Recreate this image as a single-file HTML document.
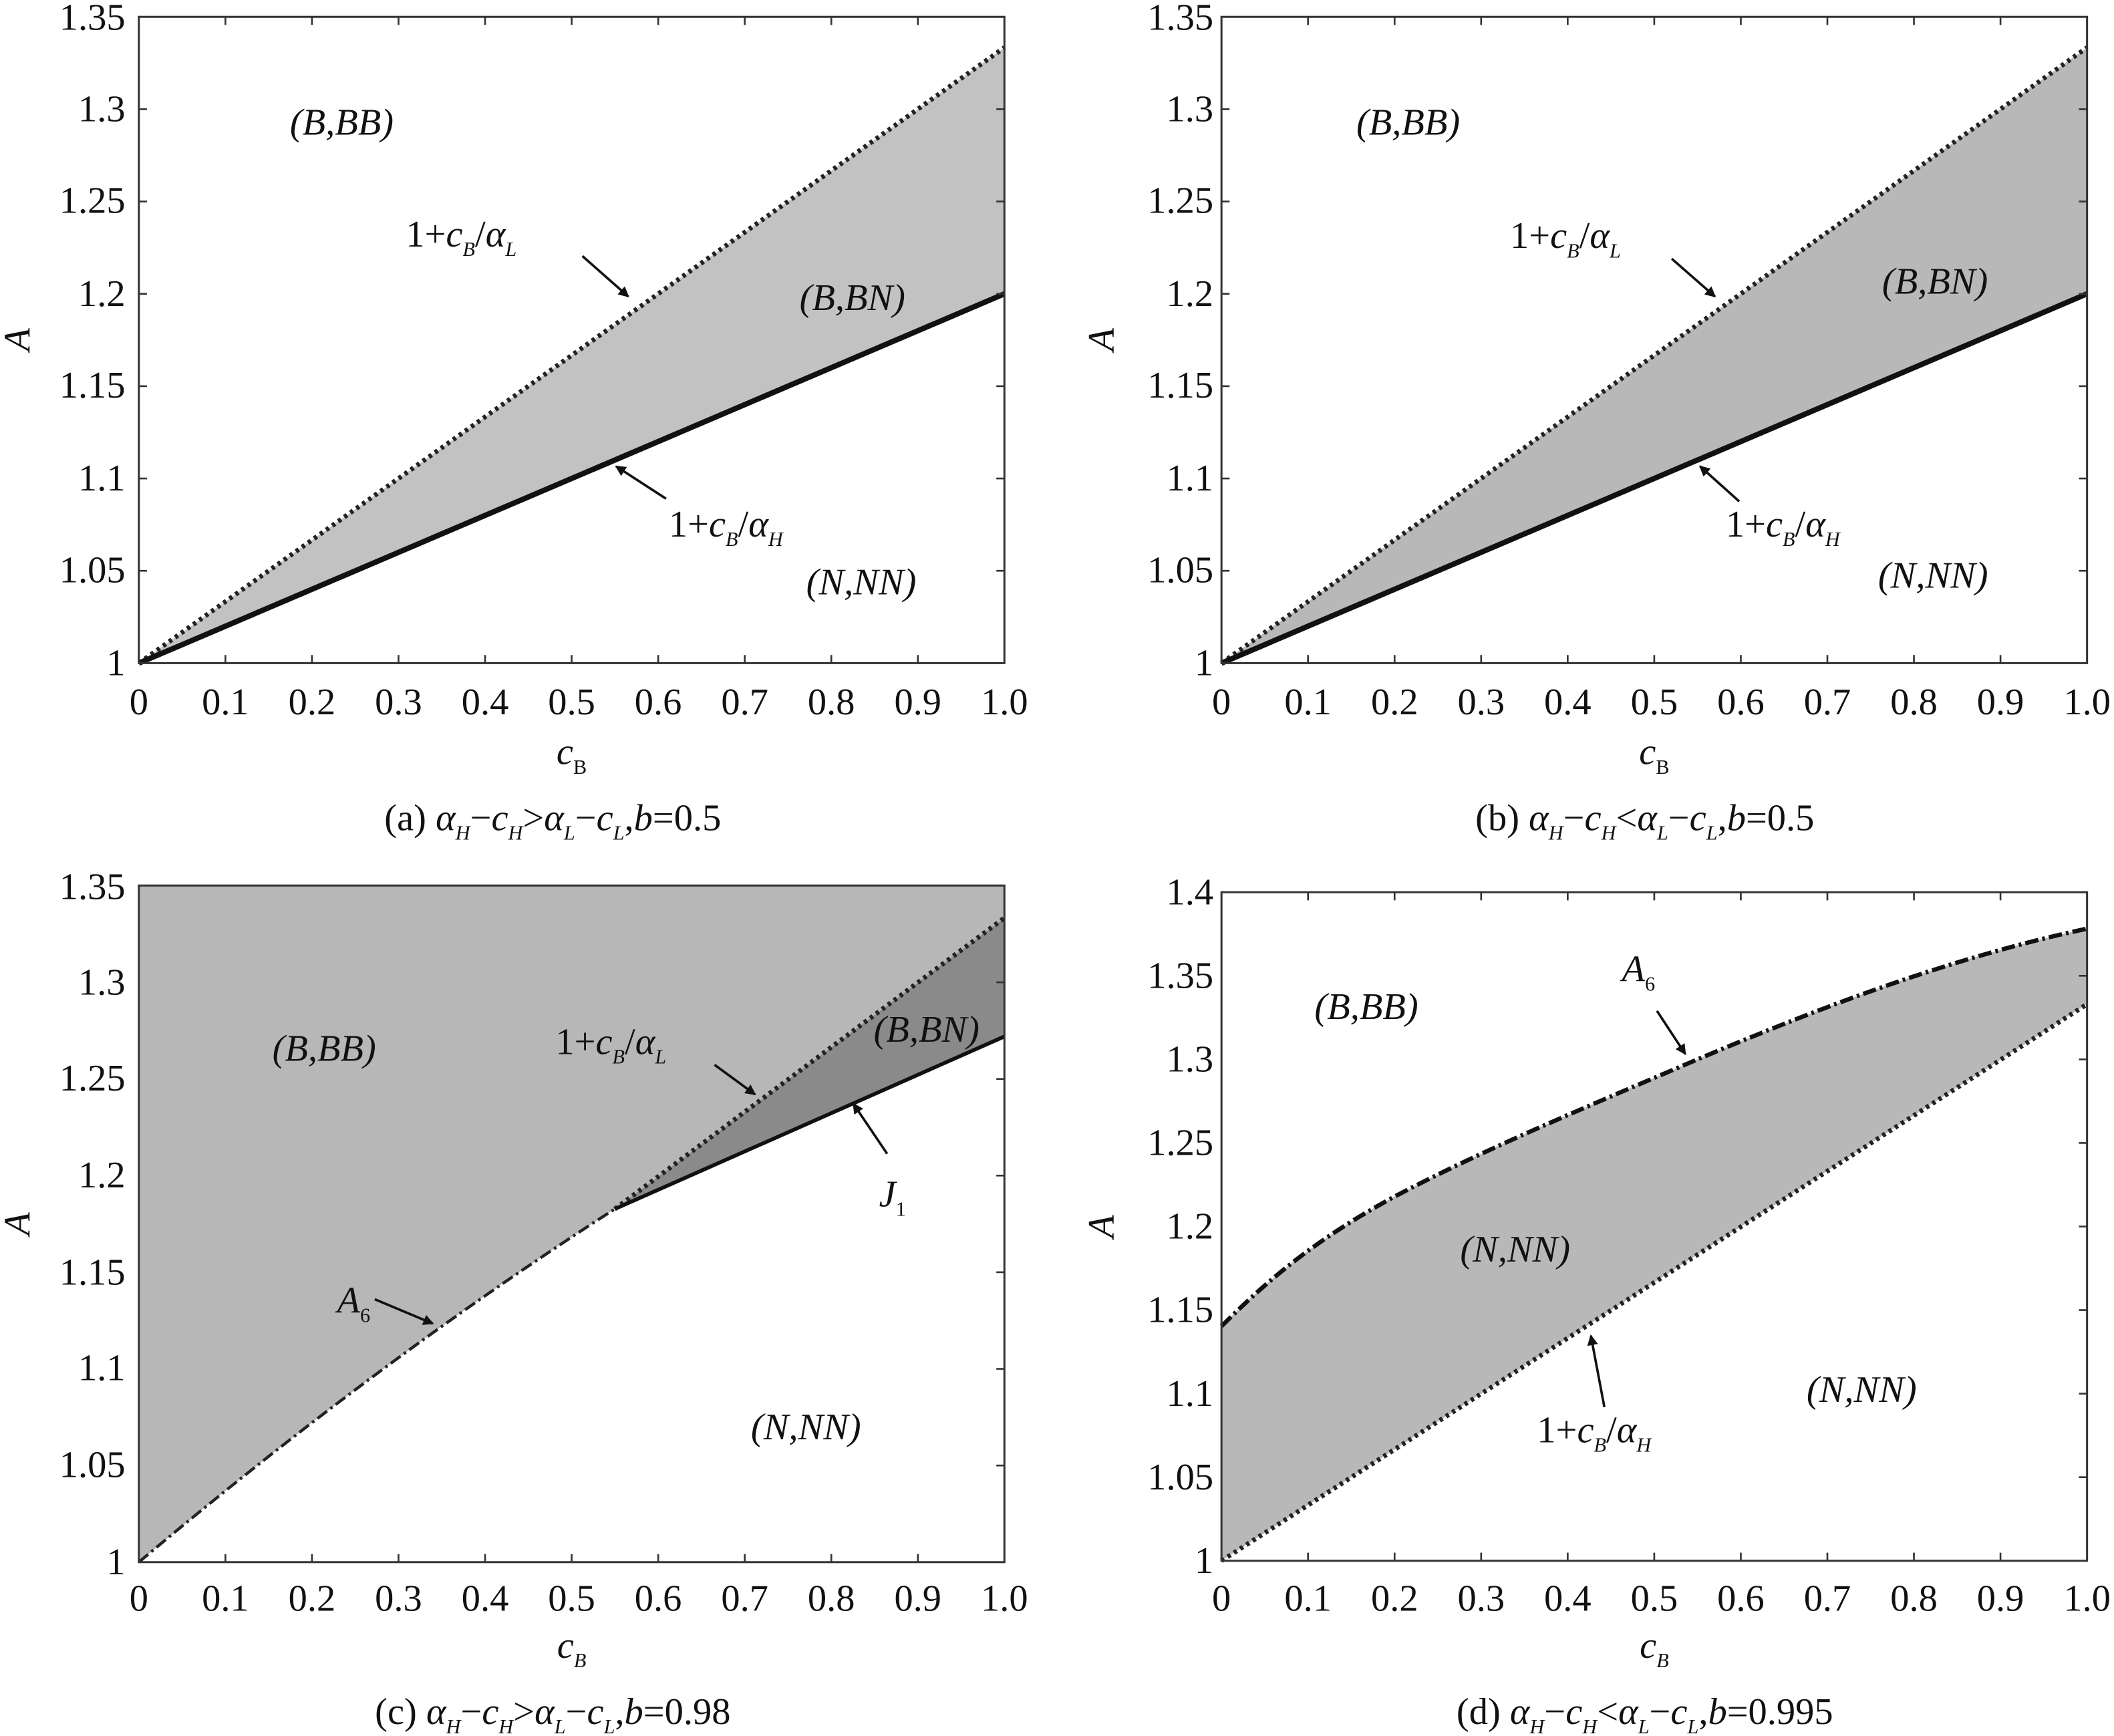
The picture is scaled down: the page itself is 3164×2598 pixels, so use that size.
<!DOCTYPE html>
<html><head><meta charset="utf-8"><style>
html,body{margin:0;padding:0;background:#fff}
svg{display:block;font-family:"Liberation Serif","DejaVu Serif","Times New Roman",serif}
svg text{font-family:"Liberation Serif","DejaVu Serif","Times New Roman",serif;fill:#111}
.t{font-size:28px}
.l{font-size:28px;font-style:italic}
.c{font-size:28px}
</style></head><body>
<svg width="3164" height="2598" viewBox="0 0 1568 1288" preserveAspectRatio="none" xmlns="http://www.w3.org/2000/svg" font-family="Liberation Serif, DejaVu Serif, serif">
<defs>
<marker id="ah" markerWidth="8" markerHeight="8" refX="7" refY="4" orient="auto" markerUnits="userSpaceOnUse" viewBox="0 0 8 8"><path d="M0,0 L8,4 L0,8 Z" fill="#111"/></marker>
</defs>

<!-- ========== Panel (a) ========== -->
<polygon points="103,492 745,35.3 745,218" fill="#c2c2c2"/>
<line x1="103" y1="492" x2="745" y2="35.3" stroke="#222" stroke-width="3.5" stroke-dasharray="2.5 3"/>
<line x1="103" y1="492" x2="745" y2="218" stroke="#111" stroke-width="4"/>
<rect x="103" y="12.5" width="642" height="479.5" fill="none" stroke="#333" stroke-width="1.5"/>
<path stroke="#333" stroke-width="1.3" d="M167.2,492v-6M231.4,492v-6M295.6,492v-6M359.8,492v-6M424,492v-6M488.2,492v-6M552.4,492v-6M616.6,492v-6M680.8,492v-6M167.2,12.5v6M231.4,12.5v6M295.6,12.5v6M359.8,12.5v6M424,12.5v6M488.2,12.5v6M552.4,12.5v6M616.6,12.5v6M680.8,12.5v6M103,423.5h6M103,355h6M103,286.5h6M103,218h6M103,149.5h6M103,81h6M745,423.5h-6M745,355h-6M745,286.5h-6M745,218h-6M745,149.5h-6M745,81h-6"/>
<g class="t" text-anchor="end"><text x="93" y="501">1</text><text x="93" y="432">1.05</text><text x="93" y="364">1.1</text><text x="93" y="295">1.15</text><text x="93" y="227">1.2</text><text x="93" y="158">1.25</text><text x="93" y="90">1.3</text><text x="93" y="22">1.35</text></g>
<g class="t" text-anchor="middle"><text x="103" y="530">0</text><text x="167.2" y="530">0.1</text><text x="231.4" y="530">0.2</text><text x="295.6" y="530">0.3</text><text x="359.8" y="530">0.4</text><text x="424" y="530">0.5</text><text x="488.2" y="530">0.6</text><text x="552.4" y="530">0.7</text><text x="616.6" y="530">0.8</text><text x="680.8" y="530">0.9</text><text x="745" y="530">1.0</text></g>
<text class="l" x="424" y="567" text-anchor="middle">c<tspan font-size="15" font-style="normal" dy="7">B</tspan></text>
<text class="l" transform="translate(22,252) rotate(-90)" text-anchor="middle">A</text>
<text class="l" x="215" y="100">(B,BB)</text>
<text class="l" x="593" y="230">(B,BN)</text>
<text class="l" x="598" y="441">(N,NN)</text>
<text class="l" x="301" y="183"><tspan font-style="normal">1+</tspan>c<tspan font-size="15" dy="7">B</tspan><tspan dy="-7" font-style="normal">/</tspan>α<tspan font-size="15" dy="7">L</tspan></text>
<text class="l" x="496" y="398"><tspan font-style="normal">1+</tspan>c<tspan font-size="15" dy="7">B</tspan><tspan dy="-7" font-style="normal">/</tspan>α<tspan font-size="15" dy="7">H</tspan></text>
<line x1="432" y1="190" x2="466" y2="220" stroke="#111" stroke-width="1.8" marker-end="url(#ah)"/>
<line x1="494" y1="370" x2="457" y2="346" stroke="#111" stroke-width="1.8" marker-end="url(#ah)"/>
<text class="c" x="410" y="616" text-anchor="middle">(a) <tspan font-style="italic">α</tspan><tspan font-size="15" font-style="italic" dy="7">H</tspan><tspan dy="-7">−</tspan><tspan font-style="italic">c</tspan><tspan font-size="15" font-style="italic" dy="7">H</tspan><tspan dy="-7">&gt;</tspan><tspan font-style="italic">α</tspan><tspan font-size="15" font-style="italic" dy="7">L</tspan><tspan dy="-7">−</tspan><tspan font-style="italic">c</tspan><tspan font-size="15" font-style="italic" dy="7">L</tspan><tspan dy="-7">,</tspan><tspan font-style="italic">b</tspan>=0.5</text>

<!-- ========== Panel (b) ========== -->
<polygon points="906,492 1548,35.3 1548,218" fill="#b8b8b8"/>
<line x1="906" y1="492" x2="1548" y2="35.3" stroke="#222" stroke-width="3.5" stroke-dasharray="2.5 3"/>
<line x1="906" y1="492" x2="1548" y2="218" stroke="#111" stroke-width="4"/>
<rect x="906" y="12.5" width="642" height="479.5" fill="none" stroke="#333" stroke-width="1.5"/>
<path stroke="#333" stroke-width="1.3" d="M970.2,492v-6M1034.4,492v-6M1098.6,492v-6M1162.8,492v-6M1227,492v-6M1291.2,492v-6M1355.4,492v-6M1419.6,492v-6M1483.8,492v-6M970.2,12.5v6M1034.4,12.5v6M1098.6,12.5v6M1162.8,12.5v6M1227,12.5v6M1291.2,12.5v6M1355.4,12.5v6M1419.6,12.5v6M1483.8,12.5v6M906,423.5h6M906,355h6M906,286.5h6M906,218h6M906,149.5h6M906,81h6M1548,423.5h-6M1548,355h-6M1548,286.5h-6M1548,218h-6M1548,149.5h-6M1548,81h-6"/>
<g class="t" text-anchor="end"><text x="900" y="501">1</text><text x="900" y="432">1.05</text><text x="900" y="364">1.1</text><text x="900" y="295">1.15</text><text x="900" y="227">1.2</text><text x="900" y="158">1.25</text><text x="900" y="90">1.3</text><text x="900" y="22">1.35</text></g>
<g class="t" text-anchor="middle"><text x="906" y="530">0</text><text x="970.2" y="530">0.1</text><text x="1034.4" y="530">0.2</text><text x="1098.6" y="530">0.3</text><text x="1162.8" y="530">0.4</text><text x="1227" y="530">0.5</text><text x="1291.2" y="530">0.6</text><text x="1355.4" y="530">0.7</text><text x="1419.6" y="530">0.8</text><text x="1483.8" y="530">0.9</text><text x="1548" y="530">1.0</text></g>
<text class="l" x="1227" y="567" text-anchor="middle">c<tspan font-size="15" font-style="normal" dy="7">B</tspan></text>
<text class="l" transform="translate(826,252) rotate(-90)" text-anchor="middle">A</text>
<text class="l" x="1006" y="100">(B,BB)</text>
<text class="l" x="1396" y="218">(B,BN)</text>
<text class="l" x="1393" y="436">(N,NN)</text>
<text class="l" x="1120" y="184"><tspan font-style="normal">1+</tspan>c<tspan font-size="15" dy="7">B</tspan><tspan dy="-7" font-style="normal">/</tspan>α<tspan font-size="15" dy="7">L</tspan></text>
<text class="l" x="1280" y="398"><tspan font-style="normal">1+</tspan>c<tspan font-size="15" dy="7">B</tspan><tspan dy="-7" font-style="normal">/</tspan>α<tspan font-size="15" dy="7">H</tspan></text>
<line x1="1240" y1="192" x2="1272" y2="220" stroke="#111" stroke-width="1.8" marker-end="url(#ah)"/>
<line x1="1290" y1="372" x2="1261" y2="346" stroke="#111" stroke-width="1.8" marker-end="url(#ah)"/>
<text class="c" x="1220" y="616" text-anchor="middle">(b) <tspan font-style="italic">α</tspan><tspan font-size="15" font-style="italic" dy="7">H</tspan><tspan dy="-7">−</tspan><tspan font-style="italic">c</tspan><tspan font-size="15" font-style="italic" dy="7">H</tspan><tspan dy="-7">&lt;</tspan><tspan font-style="italic">α</tspan><tspan font-size="15" font-style="italic" dy="7">L</tspan><tspan dy="-7">−</tspan><tspan font-style="italic">c</tspan><tspan font-size="15" font-style="italic" dy="7">L</tspan><tspan dy="-7">,</tspan><tspan font-style="italic">b</tspan>=0.5</text>

<!-- ========== Panel (c) ========== -->
<path d="M103,1159 Q280,1010 456,897 L745,681 L745,657 L103,657 Z" fill="#b7b7b7"/>
<polygon points="456,897 745,681 745,769" fill="#8a8a8a"/>
<path d="M103,1159 Q280,1010 456,897" fill="none" stroke="#222" stroke-width="2.2" stroke-dasharray="9 3 2 3"/>
<line x1="456" y1="897" x2="745" y2="681" stroke="#222" stroke-width="3.5" stroke-dasharray="2.5 3"/>
<line x1="456" y1="897" x2="745" y2="769" stroke="#111" stroke-width="2.8"/>
<rect x="103" y="657" width="642" height="502" fill="none" stroke="#333" stroke-width="1.5"/>
<path stroke="#333" stroke-width="1.3" d="M167.2,1159v-6M231.4,1159v-6M295.6,1159v-6M359.8,1159v-6M424,1159v-6M488.2,1159v-6M552.4,1159v-6M616.6,1159v-6M680.8,1159v-6M745,1087.3h-6M745,1015.6h-6M745,943.9h-6M745,872.2h-6M745,800.5h-6M745,728.8h-6"/>
<g class="t" text-anchor="end"><text x="93" y="1168">1</text><text x="93" y="1096">1.05</text><text x="93" y="1024">1.1</text><text x="93" y="953">1.15</text><text x="93" y="881">1.2</text><text x="93" y="809">1.25</text><text x="93" y="738">1.3</text><text x="93" y="667">1.35</text></g>
<g class="t" text-anchor="middle"><text x="103" y="1195">0</text><text x="167.2" y="1195">0.1</text><text x="231.4" y="1195">0.2</text><text x="295.6" y="1195">0.3</text><text x="359.8" y="1195">0.4</text><text x="424" y="1195">0.5</text><text x="488.2" y="1195">0.6</text><text x="552.4" y="1195">0.7</text><text x="616.6" y="1195">0.8</text><text x="680.8" y="1195">0.9</text><text x="745" y="1195">1.0</text></g>
<text class="l" x="424" y="1230" text-anchor="middle">c<tspan font-size="15" dy="7">B</tspan></text>
<text class="l" transform="translate(22,908) rotate(-90)" text-anchor="middle">A</text>
<text class="l" x="202" y="787">(B,BB)</text>
<text class="l" x="648" y="773">(B,BN)</text>
<text class="l" x="557" y="1068">(N,NN)</text>
<text class="l" x="652" y="895">J<tspan font-size="15" font-style="normal" dy="7">1</tspan></text>
<text class="l" x="250" y="974">A<tspan font-size="15" font-style="normal" dy="7">6</tspan></text>
<text class="l" x="412" y="782"><tspan font-style="normal">1+</tspan>c<tspan font-size="15" dy="7">B</tspan><tspan dy="-7" font-style="normal">/</tspan>α<tspan font-size="15" dy="7">L</tspan></text>
<line x1="530" y1="790" x2="560" y2="812" stroke="#111" stroke-width="1.8" marker-end="url(#ah)"/>
<line x1="658" y1="856" x2="633" y2="819" stroke="#111" stroke-width="1.8" marker-end="url(#ah)"/>
<line x1="278" y1="964" x2="321" y2="982" stroke="#111" stroke-width="1.8" marker-end="url(#ah)"/>
<text class="c" x="410" y="1279" text-anchor="middle">(c) <tspan font-style="italic">α</tspan><tspan font-size="15" font-style="italic" dy="7">H</tspan><tspan dy="-7">−</tspan><tspan font-style="italic">c</tspan><tspan font-size="15" font-style="italic" dy="7">H</tspan><tspan dy="-7">&gt;</tspan><tspan font-style="italic">α</tspan><tspan font-size="15" font-style="italic" dy="7">L</tspan><tspan dy="-7">−</tspan><tspan font-style="italic">c</tspan><tspan font-size="15" font-style="italic" dy="7">L</tspan><tspan dy="-7">,</tspan><tspan font-style="italic">b</tspan>=0.98</text>

<!-- ========== Panel (d) ========== -->
<path d="M906,984 C940,950 975,920 1034,888 C1100,853 1180,820 1259,786 C1340,752 1440,712 1548,689 L1548,745 L906,1158 Z" fill="#b8b8b8"/>
<path d="M906,984 C940,950 975,920 1034,888 C1100,853 1180,820 1259,786 C1340,752 1440,712 1548,689" fill="none" stroke="#111" stroke-width="3.2" stroke-dasharray="10 3 2 3"/>
<line x1="906" y1="1158" x2="1548" y2="745" stroke="#222" stroke-width="3.5" stroke-dasharray="2.5 3"/>
<rect x="906" y="662" width="642" height="496" fill="none" stroke="#333" stroke-width="1.5"/>
<path stroke="#333" stroke-width="1.3" d="M970.2,1158v-6M1034.4,1158v-6M1098.6,1158v-6M1162.8,1158v-6M1227,1158v-6M1291.2,1158v-6M1355.4,1158v-6M1419.6,1158v-6M1483.8,1158v-6M970.2,662v6M1034.4,662v6M1098.6,662v6M1162.8,662v6M1227,662v6M1291.2,662v6M1355.4,662v6M1419.6,662v6M1483.8,662v6M1548,1096h-6M1548,1034h-6M1548,972h-6M1548,910h-6M1548,848h-6M1548,786h-6M1548,724h-6"/>
<g class="t" text-anchor="end"><text x="900" y="1167">1</text><text x="900" y="1105">1.05</text><text x="900" y="1043">1.1</text><text x="900" y="981">1.15</text><text x="900" y="919">1.2</text><text x="900" y="857">1.25</text><text x="900" y="795">1.3</text><text x="900" y="733">1.35</text><text x="900" y="671">1.4</text></g>
<g class="t" text-anchor="middle"><text x="906" y="1195">0</text><text x="970.2" y="1195">0.1</text><text x="1034.4" y="1195">0.2</text><text x="1098.6" y="1195">0.3</text><text x="1162.8" y="1195">0.4</text><text x="1227" y="1195">0.5</text><text x="1291.2" y="1195">0.6</text><text x="1355.4" y="1195">0.7</text><text x="1419.6" y="1195">0.8</text><text x="1483.8" y="1195">0.9</text><text x="1548" y="1195">1.0</text></g>
<text class="l" x="1227" y="1230" text-anchor="middle">c<tspan font-size="15" dy="7">B</tspan></text>
<text class="l" transform="translate(826,910) rotate(-90)" text-anchor="middle">A</text>
<text class="l" x="975" y="756">(B,BB)</text>
<text class="l" x="1083" y="936">(N,NN)</text>
<text class="l" x="1340" y="1040">(N,NN)</text>
<text class="l" x="1203" y="728">A<tspan font-size="15" font-style="normal" dy="7">6</tspan></text>
<text class="l" x="1140" y="1070"><tspan font-style="normal">1+</tspan>c<tspan font-size="15" dy="7">B</tspan><tspan dy="-7" font-style="normal">/</tspan>α<tspan font-size="15" dy="7">H</tspan></text>
<line x1="1229" y1="750" x2="1250" y2="782" stroke="#111" stroke-width="1.8" marker-end="url(#ah)"/>
<line x1="1190" y1="1044" x2="1180" y2="991" stroke="#111" stroke-width="1.8" marker-end="url(#ah)"/>
<text class="c" x="1220" y="1279" text-anchor="middle">(d) <tspan font-style="italic">α</tspan><tspan font-size="15" font-style="italic" dy="7">H</tspan><tspan dy="-7">−</tspan><tspan font-style="italic">c</tspan><tspan font-size="15" font-style="italic" dy="7">H</tspan><tspan dy="-7">&lt;</tspan><tspan font-style="italic">α</tspan><tspan font-size="15" font-style="italic" dy="7">L</tspan><tspan dy="-7">−</tspan><tspan font-style="italic">c</tspan><tspan font-size="15" font-style="italic" dy="7">L</tspan><tspan dy="-7">,</tspan><tspan font-style="italic">b</tspan>=0.995</text>
</svg>
</body></html>
